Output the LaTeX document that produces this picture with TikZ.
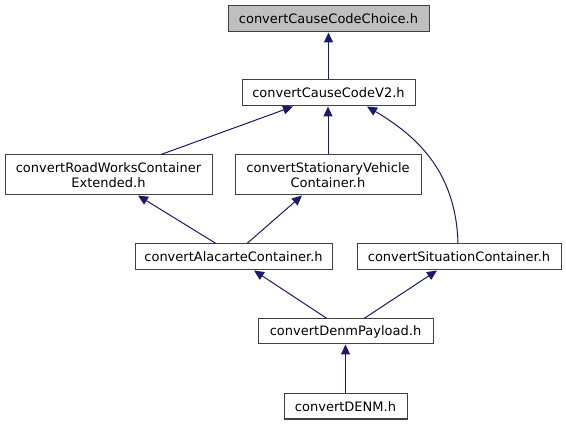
\documentclass[tikz,border=0pt]{standalone}
\usepackage{fontspec}
\setmainfont{DejaVu Sans}
\usetikzlibrary{arrows.meta}
\definecolor{edgeblue}{RGB}{25,25,112}
\definecolor{boxline}{RGB}{64,64,64}
\definecolor{boxgray}{RGB}{191,191,191}
\begin{document}
\begin{tikzpicture}[x=1pt,y=-1pt,
  box/.style={draw=boxline, line width=1pt, fill=white, inner sep=0pt, align=center,
    font=\fontsize{13}{15}\selectfont},
  edge/.style={draw=edgeblue, line width=1pt, -{Triangle[length=10pt,width=9pt]}, edgeblue}]
\useasboundingbox (0,0) rectangle (566,425);
\node[box, fill=boxgray, minimum width=201pt, minimum height=26pt] (choice) at (328.5,19) {convertCauseCodeChoice.h};
\node[box, minimum width=173pt, minimum height=26pt] (v2) at (328.5,93) {convertCauseCodeV2.h};
\node[box, minimum width=207pt, minimum height=40pt] (rw) at (108.5,175) {convertRoadWorksContainer\\Extended.h};
\node[box, minimum width=186pt, minimum height=40pt] (stat) at (328,175) {convertStationaryVehicle\\Container.h};
\node[box, minimum width=197pt, minimum height=26pt] (alac) at (233.5,257) {convertAlacarteContainer.h};
\node[box, minimum width=204pt, minimum height=26pt] (sit) at (459,257) {convertSituationContainer.h};
\node[box, minimum width=175pt, minimum height=25pt] (pay) at (345.5,331.5) {convertDenmPayload.h};
\node[box, minimum width=123pt, minimum height=25pt] (denm) at (345.5,406.5) {convertDENM.h};

\draw[edge] (v2.north) -- (choice.south);
\draw[edge] (161,0 |- rw.north) -- (293,0 |- v2.south);
\draw[edge] (stat.north) -- (stat.north |- v2.south);
\draw[edge] (458,0 |- sit.north) .. controls (456,170) and (415,135) .. (367,0 |- v2.south);
\draw[edge] (216,0 |- alac.north) -- (138,0 |- rw.south);
\draw[edge] (247,0 |- alac.north) -- (302,0 |- stat.south);
\draw[edge] (327,0 |- pay.north) -- (254,0 |- alac.south);
\draw[edge] (364,0 |- pay.north) -- (437,0 |- sit.south);
\draw[edge] (denm.north) -- (pay.south);
\end{tikzpicture}
\end{document}
